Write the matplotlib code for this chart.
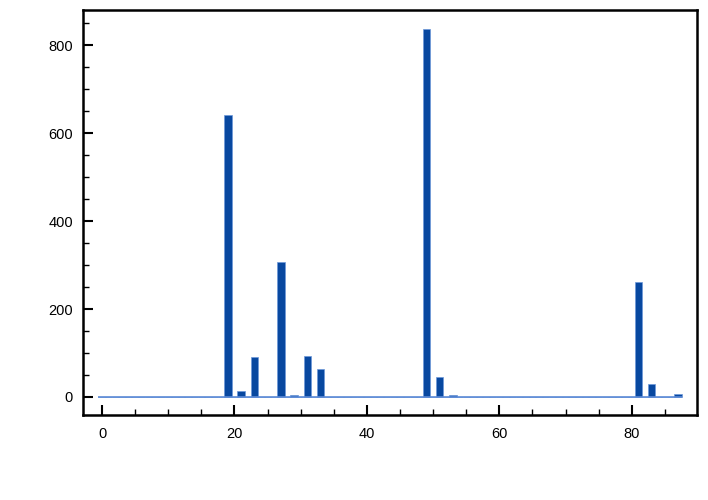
import numpy as np
import matplotlib
matplotlib.use("Agg")
import matplotlib.pyplot as plt
from matplotlib.ticker import MultipleLocator

plt.rcParams['font.family'] = ['Liberation Sans', 'DejaVu Sans']

# positions 0..87, only a few are non-zero
positions = list(range(88))
nonzero = {19: 641, 21: 14, 23: 91, 27: 306, 29: 5, 31: 93, 33: 63,
           49: 836, 51: 46, 53: 5, 81: 261, 83: 30, 87: 6}
values = [nonzero.get(p, 0) for p in positions]

fig = plt.figure(figsize=(7.08, 5.0), dpi=100)
ax = fig.add_axes([0.117, 0.17, 0.867, 0.81])

ax.bar(positions, values, width=1.12, color='#0848a0',
       edgecolor='#6d98da', linewidth=0.5)
# baseline under the bars, spanning the data range
ax.hlines(0, positions[0] - 0.55, positions[-1] + 0.55,
          color='#5b8ad6', linewidth=1.2)

ax.set_xlim(-2.9, 89.8)
ax.set_ylim(-41, 880)

ax.xaxis.set_major_locator(MultipleLocator(20))
ax.xaxis.set_minor_locator(MultipleLocator(5))
ax.yaxis.set_major_locator(MultipleLocator(200))
ax.yaxis.set_minor_locator(MultipleLocator(50))

# ticks point inward, only on bottom and left
ax.tick_params(which='major', direction='in', length=7, width=1.5,
               labelsize=10.5)
ax.tick_params(axis='x', which='major', pad=9)
ax.tick_params(axis='y', which='major', pad=7)
ax.tick_params(which='minor', direction='in', length=4.3, width=1)
for s in ax.spines.values():
    s.set_linewidth(1.8)

fig.savefig("out.png", dpi=100)
